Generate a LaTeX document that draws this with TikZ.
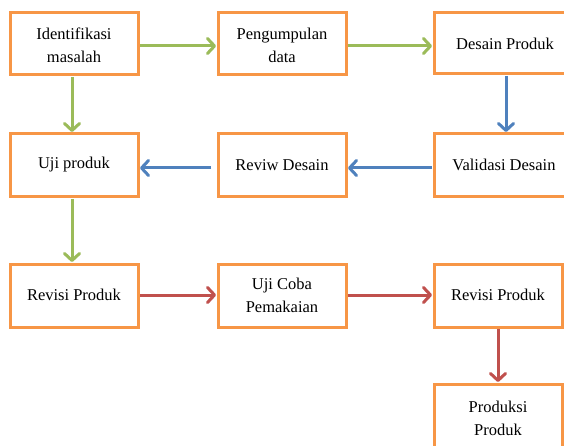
\documentclass[tikz,border=0pt]{standalone}
\usepackage{fontspec}
\setmainfont{Liberation Serif}
\usetikzlibrary{arrows.meta}
\definecolor{boxor}{HTML}{F79646}
\definecolor{agreen}{HTML}{9BBB59}
\definecolor{ablue}{HTML}{4F81BD}
\definecolor{ared}{HTML}{C0504D}
\tikzset{
  boxline/.style={draw=boxor, line width=3pt, fill=white},
  lbl/.style={align=center, inner sep=0pt, font=\fontsize{16.5}{23}\selectfont},
  conn/.style={line width=3pt, -{Straight Barb[length=7pt,width=15pt,line cap=round,line join=round]}},
  cg/.style={conn, draw=agreen},
  cb/.style={conn, draw=ablue},
  cr/.style={conn, draw=ared},
}
\begin{document}
\begin{tikzpicture}[x=1pt,y=-1pt]
\useasboundingbox (0,0) rectangle (564,446);
\clip (0,0) rectangle (564,446);
\fill[white] (0,0) rectangle (564,446);
% boxes
\draw[boxline] (10,13) rectangle (138,75);
\draw[boxline] (218,13) rectangle (346,75);
\draw[boxline] (434,13) rectangle (577,74);
\draw[boxline] (10,134) rectangle (138,197);
\draw[boxline] (218,134) rectangle (346,197);
\draw[boxline] (434,134) rectangle (577,197);
\draw[boxline] (10,264) rectangle (138,327);
\draw[boxline] (218,264) rectangle (346,327);
\draw[boxline] (434,264) rectangle (562,327);
\draw[boxline] (434,384) rectangle (562,460);
% labels
\node[lbl] (a) at (74,45) {Identifikasi\\masalah};
\node[lbl] (b) at (282,45) {Pengumpulan\\data};
\node[lbl] (c) at (505,44) {Desain Produk};
\node[lbl] (d) at (74,165) {Uji produk};
\node[lbl] (e) at (282,165) {Reviw Desain};
\node[lbl] (f) at (504,165) {Validasi Desain};
\node[lbl] (g) at (74,295) {Revisi Produk};
\node[lbl] (h) at (282,295) {Uji Coba\\Pemakaian};
\node[lbl] (i) at (498,295) {Revisi Produk};
\node[lbl] (j) at (498,418) {Produksi\\Produk};
% connector endpoints
\coordinate (a-r) at (140,46); \coordinate (b-l) at (216,46);
\coordinate (b-r) at (348,46); \coordinate (c-l) at (432,46);
\coordinate (c-b) at (506,76); \coordinate (f-t) at (506,132);
\coordinate (f-l) at (432,168); \coordinate (e-r) at (348,168);
\coordinate (e-l) at (211,168); \coordinate (d-r) at (140,168);
\coordinate (a-b) at (72,77); \coordinate (d-t) at (72,132);
\coordinate (d-b) at (72,199); \coordinate (g-t) at (72,262);
\coordinate (g-r) at (140,295); \coordinate (h-l) at (216,295);
\coordinate (h-r) at (348,295); \coordinate (i-l) at (432,295);
\coordinate (i-b) at (498,329); \coordinate (j-t) at (498,382);
% connectors
\draw[cg] (a-r) -- (b-l);
\draw[cg] (b-r) -- (c-l);
\draw[cb] (c-b) -- (f-t);
\draw[cb] (f-l) -- (e-r);
\draw[cb] (e-l) -- (d-r);
\draw[cg] (a-b) -- (d-t);
\draw[cg] (d-b) -- (g-t);
\draw[cr] (g-r) -- (h-l);
\draw[cr] (h-r) -- (i-l);
\draw[cr] (i-b) -- (j-t);
\end{tikzpicture}
\end{document}
